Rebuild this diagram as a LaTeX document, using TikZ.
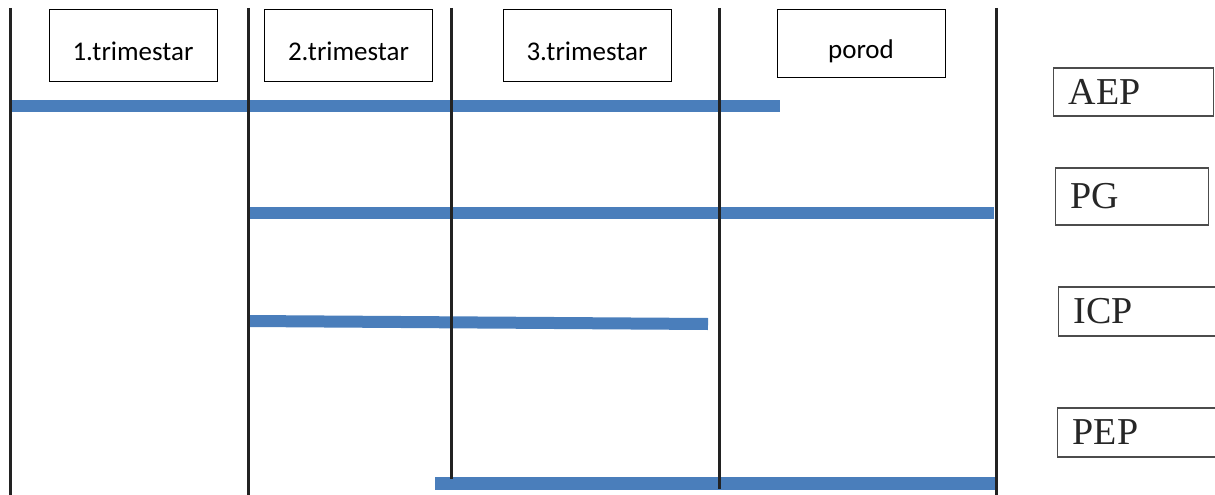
\documentclass[tikz,border=0pt]{standalone}
\usepackage{fontspec}
\setmainfont{Carlito}
\newfontfamily\labelfont{Liberation Serif}
\usetikzlibrary{positioning}
\definecolor{barblue}{RGB}{74,126,187}
\definecolor{linegray}{RGB}{34,34,34}

\begin{document}
\begin{tikzpicture}[x=1pt, y=-1pt,
  phase/.style={draw, line width=0.8pt, align=center, font=\fontsize{27}{30}\selectfont,
                minimum width=168pt, minimum height=72pt, inner sep=0pt,
                text height=40pt, text depth=10pt},
  tag/.style={draw=black!70, line width=1.4pt, align=left, text=black!85,
              font=\labelfont\fontsize{38}{40}\selectfont,
              text width=130pt, inner xsep=15pt, inner ysep=0pt},
  bar/.style={draw=barblue, line width=12pt},
  sep/.style={draw=linegray, line width=3pt},
]

\useasboundingbox (0,0) rectangle (1215,495);

%% ---- Phase headers ----

\node[phase] (tri1)  at (133,45)   {1.trimestar};
\node[phase] (tri2)  at (348.5,45) {2.trimestar};
\node[phase] (tri3)  at (587,45)   {3.trimestar};
\node[phase, minimum height=68pt, text height=41pt, text depth=9pt] (porod) at (861,43) {porod};

%% ---- Legend tags (right) ----

\node[tag, minimum height=48pt, anchor=west] (aep) at (1053,92)    {AEP};
\node[tag, minimum height=57pt, text width=123pt, anchor=west] (pg) at (1055,196.5) {PG};
\node[tag, minimum height=49pt, anchor=west] (icp) at (1058,311.5) {ICP};
\node[tag, minimum height=49pt, anchor=west] (pep) at (1057,432.5) {PEP};

%% ---- Bar ends ----

\coordinate (aep_a) at (10,106);   \coordinate (aep_b) at (780,106);
\coordinate (pg_a)  at (248,213);  \coordinate (pg_b)  at (994,213);
\coordinate (icp_a) at (248,321);  \coordinate (icp_b) at (708,324);
\coordinate (pep_a) at (435,483.5);\coordinate (pep_b) at (996,483.5);

\draw[bar] (aep_a) -- (aep_b);
\draw[bar] (pg_a)  -- (pg_b);
\draw[bar] (icp_a) -- (icp_b);
\draw[bar, line width=13pt] (pep_a) -- (pep_b);

%% ---- Phase separators ----

\coordinate (s0t) at (10,8);   \coordinate (s0b) at (10,500);
\coordinate (s1t) at (248,8);  \coordinate (s1b) at (248,500);
\coordinate (s2t) at (451,8);  \coordinate (s2b) at (451,479);
\coordinate (s3t) at (719,8);  \coordinate (s3b) at (719,489);
\coordinate (s4t) at (996,8);  \coordinate (s4b) at (996,500);

\draw[sep] (s0t) -- (s0b);
\draw[sep] (s1t) -- (s1b);
\draw[sep] (s2t) -- (s2b);
\draw[sep] (s3t) -- (s3b);
\draw[sep] (s4t) -- (s4b);

\end{tikzpicture}
\end{document}
